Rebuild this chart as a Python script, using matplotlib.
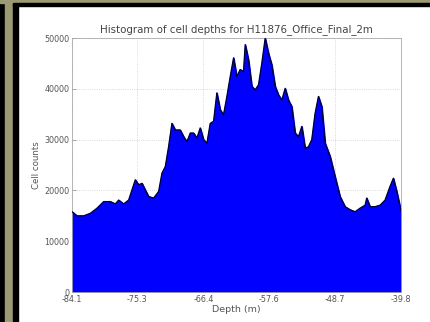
import matplotlib
matplotlib.use("Agg")
import matplotlib.pyplot as plt
from matplotlib.patches import Rectangle
import numpy as np

depths = [-84.10, -83.43, -82.53, -81.63, -80.74, -79.84, -78.94, -78.27, -77.82, -77.15,
          -76.48, -76.03, -75.58, -75.13, -74.68, -74.24, -73.79, -73.11, -72.44, -71.99,
          -71.54, -71.10, -70.65, -70.20, -69.53, -69.08, -68.63, -68.18, -67.73, -67.29,
          -66.84, -66.39, -65.94, -65.49, -65.04, -64.60, -64.15, -63.70, -63.25, -62.80,
          -62.35, -61.91, -61.46, -61.01, -60.78, -60.34, -59.89, -59.44, -58.99, -58.54,
          -58.09, -57.65, -57.20, -56.75, -56.30, -55.85, -55.40, -54.96, -54.51, -54.06,
          -53.61, -53.16, -52.71, -52.27, -51.82, -51.37, -50.92, -50.47, -50.02, -49.35,
          -48.68, -48.01, -47.33, -46.66, -45.99, -45.32, -44.64, -44.42, -43.97, -43.30,
          -42.62, -41.95, -41.28, -40.83, -40.38, -39.93, -39.80]
counts = [15800, 15000, 15000, 15500, 16500, 17800, 17800, 17350, 18100, 17350,
          18100, 20100, 22100, 21100, 21400, 20100, 18800, 18500, 19800, 23400,
          24700, 28600, 33200, 31900, 31900, 30600, 29600, 31300, 31300, 30300,
          32300, 30000, 29300, 33200, 33600, 39200, 35900, 34900, 38500, 42400,
          46100, 42400, 43800, 43400, 48700, 45700, 40500, 39800, 40800, 45100,
          50000, 47000, 44700, 40500, 38800, 37800, 40100, 37800, 36500, 31300,
          30600, 32600, 28300, 28600, 30000, 35200, 38500, 36500, 29300, 26700,
          22700, 18800, 16800, 16200, 15800, 16500, 17100, 18500, 16800, 16800,
          17100, 18100, 20800, 22400, 19800, 16800, 16000]
xticks = [-84.1, -75.3, -66.4, -57.6, -48.7, -39.8]
yticks = [0, 10000, 20000, 30000, 40000, 50000]
title = "Histogram of cell depths for H11876_Office_Final_2m"

W, H = 431, 322
fig = plt.figure(figsize=(W / 100, H / 100), dpi=100)
fig.patch.set_facecolor("white")

# photo frame at left/top
olive = "#9c9a72"
fig.patches.append(Rectangle((0, 0), 5 / W, 1, transform=fig.transFigure, color="black", zorder=0))
fig.patches.append(Rectangle((5 / W, 0), 8 / W, 1, transform=fig.transFigure, color=olive, zorder=0))
fig.patches.append(Rectangle((13 / W, 0), 5 / W, 1, transform=fig.transFigure, color="black", zorder=0))
fig.patches.append(Rectangle((0, 1 - 3 / H), 1, 3 / H, transform=fig.transFigure, color=olive, zorder=0))
fig.patches.append(Rectangle((13 / W, 1 - 6 / H), 1, 3 / H, transform=fig.transFigure, color="black", zorder=0))

ax = fig.add_axes([72 / W, 30 / H, 329 / W, 254 / H])
ax.fill_between(depths, counts, 0, color="#0000ff", zorder=2)
ax.plot(depths, counts, color="#000033", lw=0.9, zorder=3)

ax.set_xlim(-84.1, -39.8)
ax.set_ylim(0, 50000)
ax.set_xticks(xticks)
ax.set_xticklabels([f"{t:.1f}" for t in xticks], fontsize=5.8, color="#555555")
ax.set_yticks(yticks)
ax.set_yticklabels([str(t) for t in yticks], fontsize=5.8, color="#555555")
ax.tick_params(direction="in", length=3, width=0.5, colors="#888888", labelcolor="#555555", pad=2)
ax.grid(True, color="#cccccc", linestyle=":", linewidth=0.6, zorder=1)
ax.set_axisbelow(True)
for s in ax.spines.values():
    s.set_color("#aaaaaa")
    s.set_linewidth(0.6)
ax.set_title(title, fontsize=7.4, color="#444444", pad=4)
ax.set_xlabel("Depth (m)", fontsize=6.8, color="#555555", labelpad=1)
ax.set_ylabel("Cell counts", fontsize=6.2, color="#555555", labelpad=2)

fig.savefig("out.png", dpi=100)
